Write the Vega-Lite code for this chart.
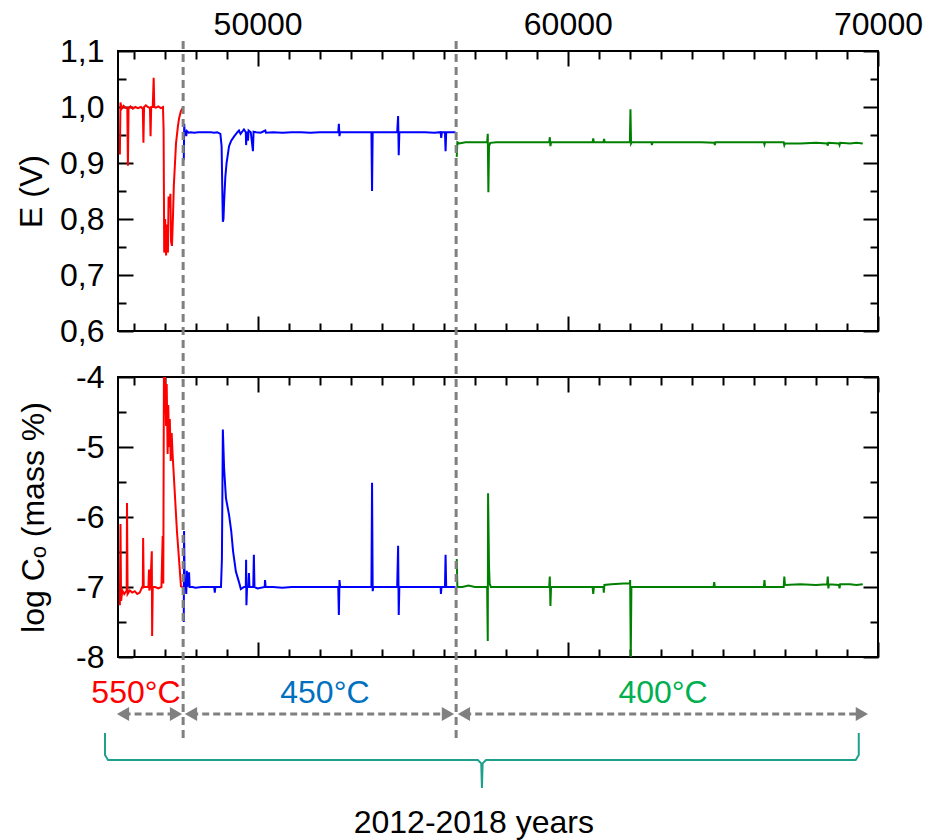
{
  "$schema": "https://vega.github.io/schema/vega-lite/v6.json",
  "background": "white",
  "padding": {"left": 14, "top": 0, "right": 5, "bottom": 5},
  "bounds": "flush",
  "spacing": 46,
  "config": {
    "font": "Liberation Sans",
    "view": {"stroke": "black", "strokeWidth": 2},
    "axis": {
      "domain": false, "grid": false,
      "labelFont": "Liberation Sans", "labelFontSize": 32, "labelColor": "black",
      "labelFlush": false, "labelOverlap": false, "labelBound": false,
      "tickColor": "black", "tickWidth": 2,
      "titleFont": "Liberation Sans", "titleFontSize": 32, "titleFontWeight": "normal", "titleColor": "black"
    }
  },
  "datasets": {
    "E": [
      {"seg":"550","t":45560,"v":0.915},{"seg":"550","t":45580,"v":1.008},{"seg":"550","t":45620,"v":0.997},{"seg":"550","t":45680,"v":1.002},{"seg":"550","t":45760,"v":0.998},{"seg":"550","t":45800,"v":0.998},{"seg":"550","t":45820,"v":0.895},{"seg":"550","t":45840,"v":0.998},{"seg":"550","t":45900,"v":1.001},{"seg":"550","t":45980,"v":0.997},{"seg":"550","t":46060,"v":1.0},{"seg":"550","t":46140,"v":0.998},{"seg":"550","t":46240,"v":1.0},{"seg":"550","t":46300,"v":0.997},{"seg":"550","t":46320,"v":0.936},{"seg":"550","t":46340,"v":1.0},{"seg":"550","t":46400,"v":1.003},{"seg":"550","t":46460,"v":1.0},{"seg":"550","t":46530,"v":0.998},{"seg":"550","t":46550,"v":0.948},{"seg":"550","t":46570,"v":1.0},{"seg":"550","t":46620,"v":1.0},{"seg":"550","t":46650,"v":1.052},{"seg":"550","t":46670,"v":1.0},{"seg":"550","t":46720,"v":0.999},{"seg":"550","t":46800,"v":1.001},{"seg":"550","t":46880,"v":0.998},{"seg":"550","t":46950,"v":1.0},{"seg":"550","t":46970,"v":0.96},{"seg":"550","t":46990,"v":0.74},{"seg":"550","t":47020,"v":0.8},{"seg":"550","t":47050,"v":0.735},{"seg":"550","t":47080,"v":0.79},{"seg":"550","t":47110,"v":0.74},{"seg":"550","t":47130,"v":0.84},{"seg":"550","t":47160,"v":0.82},{"seg":"550","t":47190,"v":0.845},{"seg":"550","t":47210,"v":0.76},{"seg":"550","t":47240,"v":0.752},{"seg":"550","t":47270,"v":0.8},{"seg":"550","t":47300,"v":0.86},{"seg":"550","t":47370,"v":0.935},{"seg":"550","t":47430,"v":0.965},{"seg":"550","t":47470,"v":0.98},{"seg":"550","t":47530,"v":0.993},{"seg":"550","t":47580,"v":0.998},
      {"seg":"450","t":47620,"v":0.905},{"seg":"450","t":47635,"v":0.97},{"seg":"450","t":47650,"v":0.953},{"seg":"450","t":47680,"v":0.958},{"seg":"450","t":47700,"v":0.948},{"seg":"450","t":47720,"v":0.957},{"seg":"450","t":47780,"v":0.954},{"seg":"450","t":47850,"v":0.955},{"seg":"450","t":47950,"v":0.954},{"seg":"450","t":48100,"v":0.955},{"seg":"450","t":48300,"v":0.955},{"seg":"450","t":48500,"v":0.955},{"seg":"450","t":48600,"v":0.954},{"seg":"450","t":48700,"v":0.955},{"seg":"450","t":48800,"v":0.952},{"seg":"450","t":48840,"v":0.93},{"seg":"450","t":48860,"v":0.86},{"seg":"450","t":48880,"v":0.795},{"seg":"450","t":48900,"v":0.8},{"seg":"450","t":48920,"v":0.83},{"seg":"450","t":48960,"v":0.875},{"seg":"450","t":49000,"v":0.9},{"seg":"450","t":49080,"v":0.93},{"seg":"450","t":49150,"v":0.94},{"seg":"450","t":49250,"v":0.948},{"seg":"450","t":49350,"v":0.955},{"seg":"450","t":49400,"v":0.958},{"seg":"450","t":49450,"v":0.952},{"seg":"450","t":49560,"v":0.96},{"seg":"450","t":49620,"v":0.955},{"seg":"450","t":49630,"v":0.932},{"seg":"450","t":49650,"v":0.956},{"seg":"450","t":49690,"v":0.94},{"seg":"450","t":49710,"v":0.958},{"seg":"450","t":49780,"v":0.955},{"seg":"450","t":49850,"v":0.921},{"seg":"450","t":49870,"v":0.956},{"seg":"450","t":49950,"v":0.955},{"seg":"450","t":50100,"v":0.954},{"seg":"450","t":50250,"v":0.958},{"seg":"450","t":50270,"v":0.954},{"seg":"450","t":50500,"v":0.955},{"seg":"450","t":50800,"v":0.954},{"seg":"450","t":51100,"v":0.955},{"seg":"450","t":51400,"v":0.955},{"seg":"450","t":51700,"v":0.954},{"seg":"450","t":52000,"v":0.955},{"seg":"450","t":52300,"v":0.955},{"seg":"450","t":52600,"v":0.955},{"seg":"450","t":52620,"v":0.97},{"seg":"450","t":52640,"v":0.948},{"seg":"450","t":52660,"v":0.955},{"seg":"450","t":53000,"v":0.955},{"seg":"450","t":53300,"v":0.955},{"seg":"450","t":53670,"v":0.955},{"seg":"450","t":53690,"v":0.85},{"seg":"450","t":53710,"v":0.955},{"seg":"450","t":54000,"v":0.955},{"seg":"450","t":54300,"v":0.955},{"seg":"450","t":54500,"v":0.955},{"seg":"450","t":54530,"v":0.984},{"seg":"450","t":54550,"v":0.914},{"seg":"450","t":54570,"v":0.955},{"seg":"450","t":54800,"v":0.955},{"seg":"450","t":55100,"v":0.955},{"seg":"450","t":55400,"v":0.955},{"seg":"450","t":55700,"v":0.954},{"seg":"450","t":55900,"v":0.955},{"seg":"450","t":55920,"v":0.945},{"seg":"450","t":55940,"v":0.955},{"seg":"450","t":56040,"v":0.955},{"seg":"450","t":56060,"v":0.921},{"seg":"450","t":56080,"v":0.955},{"seg":"450","t":56250,"v":0.955},{"seg":"450","t":56380,"v":0.955},
      {"seg":"400","t":56420,"v":0.911},{"seg":"400","t":56440,"v":0.937},{"seg":"400","t":56500,"v":0.935},{"seg":"400","t":56700,"v":0.937},{"seg":"400","t":57000,"v":0.937},{"seg":"400","t":57300,"v":0.937},{"seg":"400","t":57400,"v":0.937},{"seg":"400","t":57420,"v":0.952},{"seg":"400","t":57440,"v":0.848},{"seg":"400","t":57460,"v":0.93},{"seg":"400","t":57500,"v":0.936},{"seg":"400","t":57700,"v":0.937},{"seg":"400","t":58000,"v":0.937},{"seg":"400","t":58500,"v":0.937},{"seg":"400","t":59000,"v":0.937},{"seg":"400","t":59400,"v":0.937},{"seg":"400","t":59420,"v":0.946},{"seg":"400","t":59440,"v":0.93},{"seg":"400","t":59460,"v":0.937},{"seg":"400","t":60000,"v":0.937},{"seg":"400","t":60500,"v":0.937},{"seg":"400","t":60800,"v":0.937},{"seg":"400","t":60820,"v":0.944},{"seg":"400","t":60840,"v":0.937},{"seg":"400","t":61150,"v":0.937},{"seg":"400","t":61170,"v":0.943},{"seg":"400","t":61190,"v":0.937},{"seg":"400","t":61600,"v":0.937},{"seg":"400","t":62000,"v":0.937},{"seg":"400","t":62020,"v":0.996},{"seg":"400","t":62040,"v":0.935},{"seg":"400","t":62060,"v":0.937},{"seg":"400","t":62400,"v":0.937},{"seg":"400","t":62700,"v":0.937},{"seg":"400","t":62710,"v":0.932},{"seg":"400","t":62730,"v":0.937},{"seg":"400","t":63200,"v":0.937},{"seg":"400","t":63800,"v":0.937},{"seg":"400","t":64300,"v":0.937},{"seg":"400","t":64720,"v":0.936},{"seg":"400","t":64740,"v":0.932},{"seg":"400","t":64760,"v":0.937},{"seg":"400","t":65300,"v":0.937},{"seg":"400","t":65900,"v":0.937},{"seg":"400","t":66320,"v":0.937},{"seg":"400","t":66340,"v":0.933},{"seg":"400","t":66360,"v":0.937},{"seg":"400","t":66960,"v":0.937},{"seg":"400","t":66980,"v":0.932},{"seg":"400","t":67000,"v":0.935},{"seg":"400","t":67500,"v":0.935},{"seg":"400","t":68000,"v":0.936},{"seg":"400","t":68360,"v":0.935},{"seg":"400","t":68380,"v":0.931},{"seg":"400","t":68400,"v":0.936},{"seg":"400","t":68740,"v":0.935},{"seg":"400","t":68760,"v":0.932},{"seg":"400","t":68780,"v":0.936},{"seg":"400","t":69100,"v":0.935},{"seg":"400","t":69300,"v":0.936},{"seg":"400","t":69510,"v":0.935}
    ],
    "C": [
      {"seg":"550","t":45560,"v":-7.26},{"seg":"550","t":45580,"v":-6.1},{"seg":"550","t":45600,"v":-7.2},{"seg":"550","t":45640,"v":-7.05},{"seg":"550","t":45700,"v":-7.1},{"seg":"550","t":45780,"v":-7.05},{"seg":"550","t":45790,"v":-5.8},{"seg":"550","t":45810,"v":-7.1},{"seg":"550","t":45880,"v":-7.05},{"seg":"550","t":45960,"v":-7.08},{"seg":"550","t":46040,"v":-7.06},{"seg":"550","t":46120,"v":-7.1},{"seg":"550","t":46200,"v":-7.08},{"seg":"550","t":46280,"v":-7.0},{"seg":"550","t":46300,"v":-7.02},{"seg":"550","t":46310,"v":-6.3},{"seg":"550","t":46330,"v":-7.0},{"seg":"550","t":46400,"v":-7.0},{"seg":"550","t":46480,"v":-7.0},{"seg":"550","t":46500,"v":-6.75},{"seg":"550","t":46510,"v":-7.05},{"seg":"550","t":46540,"v":-7.0},{"seg":"550","t":46590,"v":-6.49},{"seg":"550","t":46600,"v":-7.7},{"seg":"550","t":46620,"v":-7.0},{"seg":"550","t":46700,"v":-7.0},{"seg":"550","t":46800,"v":-7.02},{"seg":"550","t":46900,"v":-7.0},{"seg":"550","t":46940,"v":-6.27},{"seg":"550","t":46960,"v":-6.95},{"seg":"550","t":46980,"v":-4.0},{"seg":"550","t":47000,"v":-4.3},{"seg":"550","t":47020,"v":-4.0},{"seg":"550","t":47050,"v":-4.7},{"seg":"550","t":47070,"v":-4.1},{"seg":"550","t":47100,"v":-5.1},{"seg":"550","t":47120,"v":-4.4},{"seg":"550","t":47150,"v":-5.0},{"seg":"550","t":47170,"v":-4.6},{"seg":"550","t":47200,"v":-5.2},{"seg":"550","t":47230,"v":-4.8},{"seg":"550","t":47260,"v":-5.1},{"seg":"550","t":47400,"v":-6.2},{"seg":"550","t":47530,"v":-6.99},{"seg":"550","t":47580,"v":-7.0},
      {"seg":"450","t":47620,"v":-7.5},{"seg":"450","t":47630,"v":-6.2},{"seg":"450","t":47650,"v":-7.0},{"seg":"450","t":47680,"v":-6.9},{"seg":"450","t":47700,"v":-7.1},{"seg":"450","t":47720,"v":-6.77},{"seg":"450","t":47740,"v":-7.0},{"seg":"450","t":47790,"v":-6.79},{"seg":"450","t":47810,"v":-7.0},{"seg":"450","t":47900,"v":-7.0},{"seg":"450","t":48000,"v":-7.01},{"seg":"450","t":48200,"v":-7.0},{"seg":"450","t":48400,"v":-7.0},{"seg":"450","t":48600,"v":-7.0},{"seg":"450","t":48620,"v":-7.08},{"seg":"450","t":48640,"v":-7.0},{"seg":"450","t":48820,"v":-7.0},{"seg":"450","t":48850,"v":-6.6},{"seg":"450","t":48880,"v":-4.75},{"seg":"450","t":48920,"v":-5.3},{"seg":"450","t":48980,"v":-5.73},{"seg":"450","t":49080,"v":-5.97},{"seg":"450","t":49150,"v":-6.2},{"seg":"450","t":49210,"v":-6.49},{"seg":"450","t":49300,"v":-6.78},{"seg":"450","t":49400,"v":-6.93},{"seg":"450","t":49460,"v":-7.03},{"seg":"450","t":49560,"v":-7.0},{"seg":"450","t":49620,"v":-7.0},{"seg":"450","t":49630,"v":-6.61},{"seg":"450","t":49640,"v":-7.26},{"seg":"450","t":49660,"v":-7.0},{"seg":"450","t":49700,"v":-7.0},{"seg":"450","t":49720,"v":-6.8},{"seg":"450","t":49740,"v":-7.0},{"seg":"450","t":49860,"v":-7.0},{"seg":"450","t":49880,"v":-6.54},{"seg":"450","t":49900,"v":-7.0},{"seg":"450","t":50000,"v":-7.02},{"seg":"450","t":50230,"v":-7.0},{"seg":"450","t":50240,"v":-6.9},{"seg":"450","t":50260,"v":-7.0},{"seg":"450","t":50500,"v":-7.0},{"seg":"450","t":50800,"v":-7.01},{"seg":"450","t":51100,"v":-7.0},{"seg":"450","t":51400,"v":-7.0},{"seg":"450","t":51700,"v":-7.0},{"seg":"450","t":52000,"v":-7.0},{"seg":"450","t":52300,"v":-7.0},{"seg":"450","t":52600,"v":-7.0},{"seg":"450","t":52620,"v":-7.4},{"seg":"450","t":52640,"v":-6.9},{"seg":"450","t":52660,"v":-7.0},{"seg":"450","t":53000,"v":-7.0},{"seg":"450","t":53300,"v":-7.0},{"seg":"450","t":53670,"v":-7.0},{"seg":"450","t":53690,"v":-5.51},{"seg":"450","t":53710,"v":-7.06},{"seg":"450","t":53730,"v":-7.0},{"seg":"450","t":54000,"v":-7.0},{"seg":"450","t":54300,"v":-7.0},{"seg":"450","t":54500,"v":-7.0},{"seg":"450","t":54530,"v":-6.41},{"seg":"450","t":54550,"v":-7.4},{"seg":"450","t":54570,"v":-7.0},{"seg":"450","t":54800,"v":-7.0},{"seg":"450","t":55100,"v":-7.0},{"seg":"450","t":55400,"v":-7.0},{"seg":"450","t":55700,"v":-7.0},{"seg":"450","t":55900,"v":-7.0},{"seg":"450","t":55910,"v":-7.1},{"seg":"450","t":55930,"v":-7.0},{"seg":"450","t":56040,"v":-7.0},{"seg":"450","t":56060,"v":-6.54},{"seg":"450","t":56080,"v":-7.0},{"seg":"450","t":56250,"v":-7.0},{"seg":"450","t":56380,"v":-7.0},
      {"seg":"400","t":56420,"v":-6.6},{"seg":"400","t":56440,"v":-7.0},{"seg":"400","t":56600,"v":-7.0},{"seg":"400","t":56800,"v":-6.98},{"seg":"400","t":57000,"v":-7.0},{"seg":"400","t":57200,"v":-7.0},{"seg":"400","t":57400,"v":-7.0},{"seg":"400","t":57420,"v":-7.77},{"seg":"400","t":57430,"v":-5.66},{"seg":"400","t":57460,"v":-6.7},{"seg":"400","t":57480,"v":-6.95},{"seg":"400","t":57520,"v":-7.0},{"seg":"400","t":57700,"v":-7.0},{"seg":"400","t":58000,"v":-7.0},{"seg":"400","t":58500,"v":-7.0},{"seg":"400","t":59000,"v":-7.0},{"seg":"400","t":59400,"v":-7.0},{"seg":"400","t":59420,"v":-6.85},{"seg":"400","t":59440,"v":-7.27},{"seg":"400","t":59460,"v":-7.0},{"seg":"400","t":60000,"v":-7.0},{"seg":"400","t":60500,"v":-7.0},{"seg":"400","t":60800,"v":-7.0},{"seg":"400","t":60820,"v":-7.1},{"seg":"400","t":60840,"v":-7.0},{"seg":"400","t":61150,"v":-7.0},{"seg":"400","t":61160,"v":-7.08},{"seg":"400","t":61180,"v":-6.97},{"seg":"400","t":61400,"v":-6.96},{"seg":"400","t":61800,"v":-6.95},{"seg":"400","t":62000,"v":-6.95},{"seg":"400","t":62010,"v":-6.9},{"seg":"400","t":62030,"v":-8.0},{"seg":"400","t":62050,"v":-7.0},{"seg":"400","t":62300,"v":-7.0},{"seg":"400","t":62700,"v":-7.0},{"seg":"400","t":63200,"v":-7.0},{"seg":"400","t":63800,"v":-7.0},{"seg":"400","t":64300,"v":-7.0},{"seg":"400","t":64700,"v":-7.0},{"seg":"400","t":64720,"v":-6.93},{"seg":"400","t":64740,"v":-7.0},{"seg":"400","t":65300,"v":-7.0},{"seg":"400","t":65900,"v":-7.0},{"seg":"400","t":66320,"v":-7.0},{"seg":"400","t":66340,"v":-6.9},{"seg":"400","t":66360,"v":-7.0},{"seg":"400","t":66960,"v":-7.0},{"seg":"400","t":66980,"v":-6.85},{"seg":"400","t":67000,"v":-6.97},{"seg":"400","t":67500,"v":-6.96},{"seg":"400","t":68000,"v":-6.97},{"seg":"400","t":68360,"v":-6.96},{"seg":"400","t":68380,"v":-6.85},{"seg":"400","t":68400,"v":-7.02},{"seg":"400","t":68420,"v":-6.96},{"seg":"400","t":68740,"v":-6.97},{"seg":"400","t":68760,"v":-7.02},{"seg":"400","t":68780,"v":-6.96},{"seg":"400","t":69100,"v":-6.96},{"seg":"400","t":69300,"v":-6.97},{"seg":"400","t":69510,"v":-6.96}
    ],
    "vl": [{"t":47600,"top":0.8,"bot":-9.19},{"t":56400,"top":0.8,"bot":-9.19}],
    "arr": [{"t":45680,"t2":47360,"y":-8.814},{"t":47860,"t2":56130,"y":-8.814},{"t":56660,"t2":69470,"y":-8.814}],
    "hd": [{"t":45661,"y":-8.814,"dir":"left"},{"t":47369,"y":-8.814,"dir":"right"},{"t":47853,"y":-8.814,"dir":"left"},{"t":56136,"y":-8.814,"dir":"right"},{"t":56652,"y":-8.814,"dir":"left"},{"t":69480,"y":-8.814,"dir":"right"}],
    "lab": [{"seg":"550","t":46080,"y":-8.514,"txt":"550°C"},{"seg":"450","t":52170,"y":-8.514,"txt":"450°C"},{"seg":"400","t":63070,"y":-8.514,"txt":"400°C"}],
    "br": [{"o":1,"t":45081,"y":-9.086},{"o":2,"t":45081,"y":-9.4},{"o":3,"t":45180,"y":-9.471},{"o":4,"t":57100,"y":-9.471},{"o":5,"t":57210,"y":-9.52},{"o":6,"t":57232,"y":-9.871},{"o":7,"t":57254,"y":-9.52},{"o":8,"t":57364,"y":-9.471},{"o":9,"t":69280,"y":-9.471},{"o":10,"t":69380,"y":-9.4},{"o":11,"t":69380,"y":-9.086}],
    "yr": [{"t":56970,"y":-10.37,"txt":"2012-2018 years"}]
  },
  "vconcat": [
    {
      "width": 760, "height": 280,
      "resolve": {"axis": {"x": "independent", "y": "independent"}},
      "layer": [
        {
          "data": {"name": "E"},
          "mark": {"type": "line", "strokeWidth": 2, "clip": true},
          "encoding": {
            "x": {"field": "t", "type": "quantitative", "scale": {"domain": [45500, 70000], "nice": false, "zero": false},
              "axis": {"orient": "top", "title": null, "values": [46000,47000,48000,49000,50000,51000,52000,53000,54000,55000,56000,57000,58000,59000,60000,61000,62000,63000,64000,65000,66000,67000,68000,69000,70000],
                "tickSize": {"condition": {"test": "datum.value % 10000 === 0", "value": -15}, "value": -8},
                "labelExpr": "datum.value % 10000 === 0 ? format(datum.value, 'd') : ''", "labelPadding": 25}},
            "y": {"field": "v", "type": "quantitative", "scale": {"domain": [0.6, 1.1], "nice": false, "zero": false},
              "axis": {"orient": "left", "title": "E (V)", "titlePadding": 11, "values": [0.6,0.65,0.7,0.75,0.8,0.85,0.9,0.95,1.0,1.05,1.1],
                "tickSize": {"condition": {"test": "abs(datum.value*10 - round(datum.value*10)) < 0.001", "value": -15}, "value": -8},
                "labelExpr": "abs(datum.value*10 - round(datum.value*10)) < 0.001 ? replace(format(datum.value, '.1f'), '.', ',') : ''", "labelPadding": 29}},
            "color": {"field": "seg", "type": "nominal", "scale": {"domain": ["550","450","400"], "range": ["#ff0000","#0000ff","#008000"]}, "legend": null}
          }
        },
        {
          "data": {"name": "E"},
          "transform": [{"filter": "false"}],
          "mark": {"type": "point", "opacity": 0},
          "encoding": {
            "x": {"field": "t", "type": "quantitative", "scale": {"domain": [45500, 70000], "nice": false, "zero": false},
              "axis": {"orient": "bottom", "title": null, "labels": false, "values": [46000,47000,48000,49000,50000,51000,52000,53000,54000,55000,56000,57000,58000,59000,60000,61000,62000,63000,64000,65000,66000,67000,68000,69000,70000],
                "tickSize": {"condition": {"test": "datum.value % 10000 === 0", "value": -15}, "value": -8}}},
            "y": {"field": "v", "type": "quantitative", "scale": {"domain": [0.6, 1.1], "nice": false, "zero": false},
              "axis": {"orient": "right", "title": null, "labels": false, "values": [0.6,0.65,0.7,0.75,0.8,0.85,0.9,0.95,1.0,1.05,1.1],
                "tickSize": {"condition": {"test": "abs(datum.value*10 - round(datum.value*10)) < 0.001", "value": -15}, "value": -8}}}
          }
        }
      ]
    },
    {
      "width": 760, "height": 280,
      "resolve": {"axis": {"x": "independent", "y": "independent"}},
      "layer": [
        {
          "data": {"name": "C"},
          "mark": {"type": "line", "strokeWidth": 2, "clip": true},
          "encoding": {
            "x": {"field": "t", "type": "quantitative", "scale": {"domain": [45500, 70000], "nice": false, "zero": false},
              "axis": {"orient": "top", "title": null, "labels": false, "values": [46000,47000,48000,49000,50000,51000,52000,53000,54000,55000,56000,57000,58000,59000,60000,61000,62000,63000,64000,65000,66000,67000,68000,69000,70000],
                "tickSize": {"condition": {"test": "datum.value % 10000 === 0", "value": -15}, "value": -8}}},
            "y": {"field": "v", "type": "quantitative", "scale": {"domain": [-8, -4], "nice": false, "zero": false},
              "axis": {"orient": "left", "title": "log Cₒ (mass %)", "titlePadding": 25, "values": [-8,-7.5,-7,-6.5,-6,-5.5,-5,-4.5,-4],
                "tickSize": {"condition": {"test": "datum.value % 1 === 0", "value": -15}, "value": -8},
                "labelExpr": "datum.value % 1 === 0 ? '-' + format(abs(datum.value), 'd') : ''", "labelPadding": 29}},
            "color": {"field": "seg", "type": "nominal", "scale": {"domain": ["550","450","400"], "range": ["#ff0000","#0000ff","#008000"]}, "legend": null}
          }
        },
        {
          "data": {"name": "C"},
          "transform": [{"filter": "false"}],
          "mark": {"type": "point", "opacity": 0},
          "encoding": {
            "x": {"field": "t", "type": "quantitative", "scale": {"domain": [45500, 70000], "nice": false, "zero": false},
              "axis": {"orient": "bottom", "title": null, "labels": false, "values": [46000,47000,48000,49000,50000,51000,52000,53000,54000,55000,56000,57000,58000,59000,60000,61000,62000,63000,64000,65000,66000,67000,68000,69000,70000],
                "tickSize": {"condition": {"test": "datum.value % 10000 === 0", "value": -15}, "value": -8}}},
            "y": {"field": "v", "type": "quantitative", "scale": {"domain": [-8, -4], "nice": false, "zero": false},
              "axis": {"orient": "right", "title": null, "labels": false, "values": [-8,-7.5,-7,-6.5,-6,-5.5,-5,-4.5,-4],
                "tickSize": {"condition": {"test": "datum.value % 1 === 0", "value": -15}, "value": -8}}}
          }
        },
        {
          "data": {"name": "vl"},
          "mark": {"type": "rule", "color": "#808080", "strokeWidth": 3, "strokeDash": [8, 5]},
          "encoding": {
            "x": {"field": "t", "type": "quantitative", "scale": {"domain": [45500, 70000], "nice": false, "zero": false}, "axis": null},
            "y": {"field": "top", "type": "quantitative", "scale": {"domain": [-8, -4], "nice": false, "zero": false}, "axis": null},
            "y2": {"field": "bot"}
          }
        },
        {
          "data": {"name": "arr"},
          "mark": {"type": "rule", "color": "#808080", "strokeWidth": 3, "strokeDash": [7, 4]},
          "encoding": {
            "x": {"field": "t", "type": "quantitative", "scale": {"domain": [45500, 70000], "nice": false, "zero": false}, "axis": null},
            "x2": {"field": "t2"},
            "y": {"field": "y", "type": "quantitative", "scale": {"domain": [-8, -4], "nice": false, "zero": false}, "axis": null}
          }
        },
        {
          "data": {"name": "hd"},
          "mark": {"type": "point", "filled": true, "color": "#808080", "opacity": 1, "size": 200},
          "encoding": {
            "x": {"field": "t", "type": "quantitative", "scale": {"domain": [45500, 70000], "nice": false, "zero": false}, "axis": null},
            "y": {"field": "y", "type": "quantitative", "scale": {"domain": [-8, -4], "nice": false, "zero": false}, "axis": null},
            "shape": {"field": "dir", "type": "nominal", "scale": {"domain": ["left","right"], "range": ["triangle-left","triangle-right"]}, "legend": null}
          }
        },
        {
          "data": {"name": "lab"},
          "mark": {"type": "text", "fontSize": 32, "font": "Liberation Sans", "baseline": "middle", "align": "center"},
          "encoding": {
            "x": {"field": "t", "type": "quantitative", "scale": {"domain": [45500, 70000], "nice": false, "zero": false}, "axis": null},
            "y": {"field": "y", "type": "quantitative", "scale": {"domain": [-8, -4], "nice": false, "zero": false}, "axis": null},
            "text": {"field": "txt"},
            "fill": {"field": "seg", "type": "nominal", "scale": {"domain": ["550","450","400"], "range": ["#ff0000","#0070c0","#00b050"]}, "legend": null}
          }
        },
        {
          "data": {"name": "br"},
          "mark": {"type": "line", "color": "#1fa08c", "strokeWidth": 2},
          "encoding": {
            "x": {"field": "t", "type": "quantitative", "scale": {"domain": [45500, 70000], "nice": false, "zero": false}, "axis": null},
            "y": {"field": "y", "type": "quantitative", "scale": {"domain": [-8, -4], "nice": false, "zero": false}, "axis": null},
            "order": {"field": "o", "type": "quantitative"}
          }
        },
        {
          "data": {"name": "yr"},
          "mark": {"type": "text", "fontSize": 32, "font": "Liberation Sans", "baseline": "middle", "align": "center", "color": "black"},
          "encoding": {
            "x": {"field": "t", "type": "quantitative", "scale": {"domain": [45500, 70000], "nice": false, "zero": false}, "axis": null},
            "y": {"field": "y", "type": "quantitative", "scale": {"domain": [-8, -4], "nice": false, "zero": false}, "axis": null},
            "text": {"field": "txt"}
          }
        }
      ]
    }
  ]
}
